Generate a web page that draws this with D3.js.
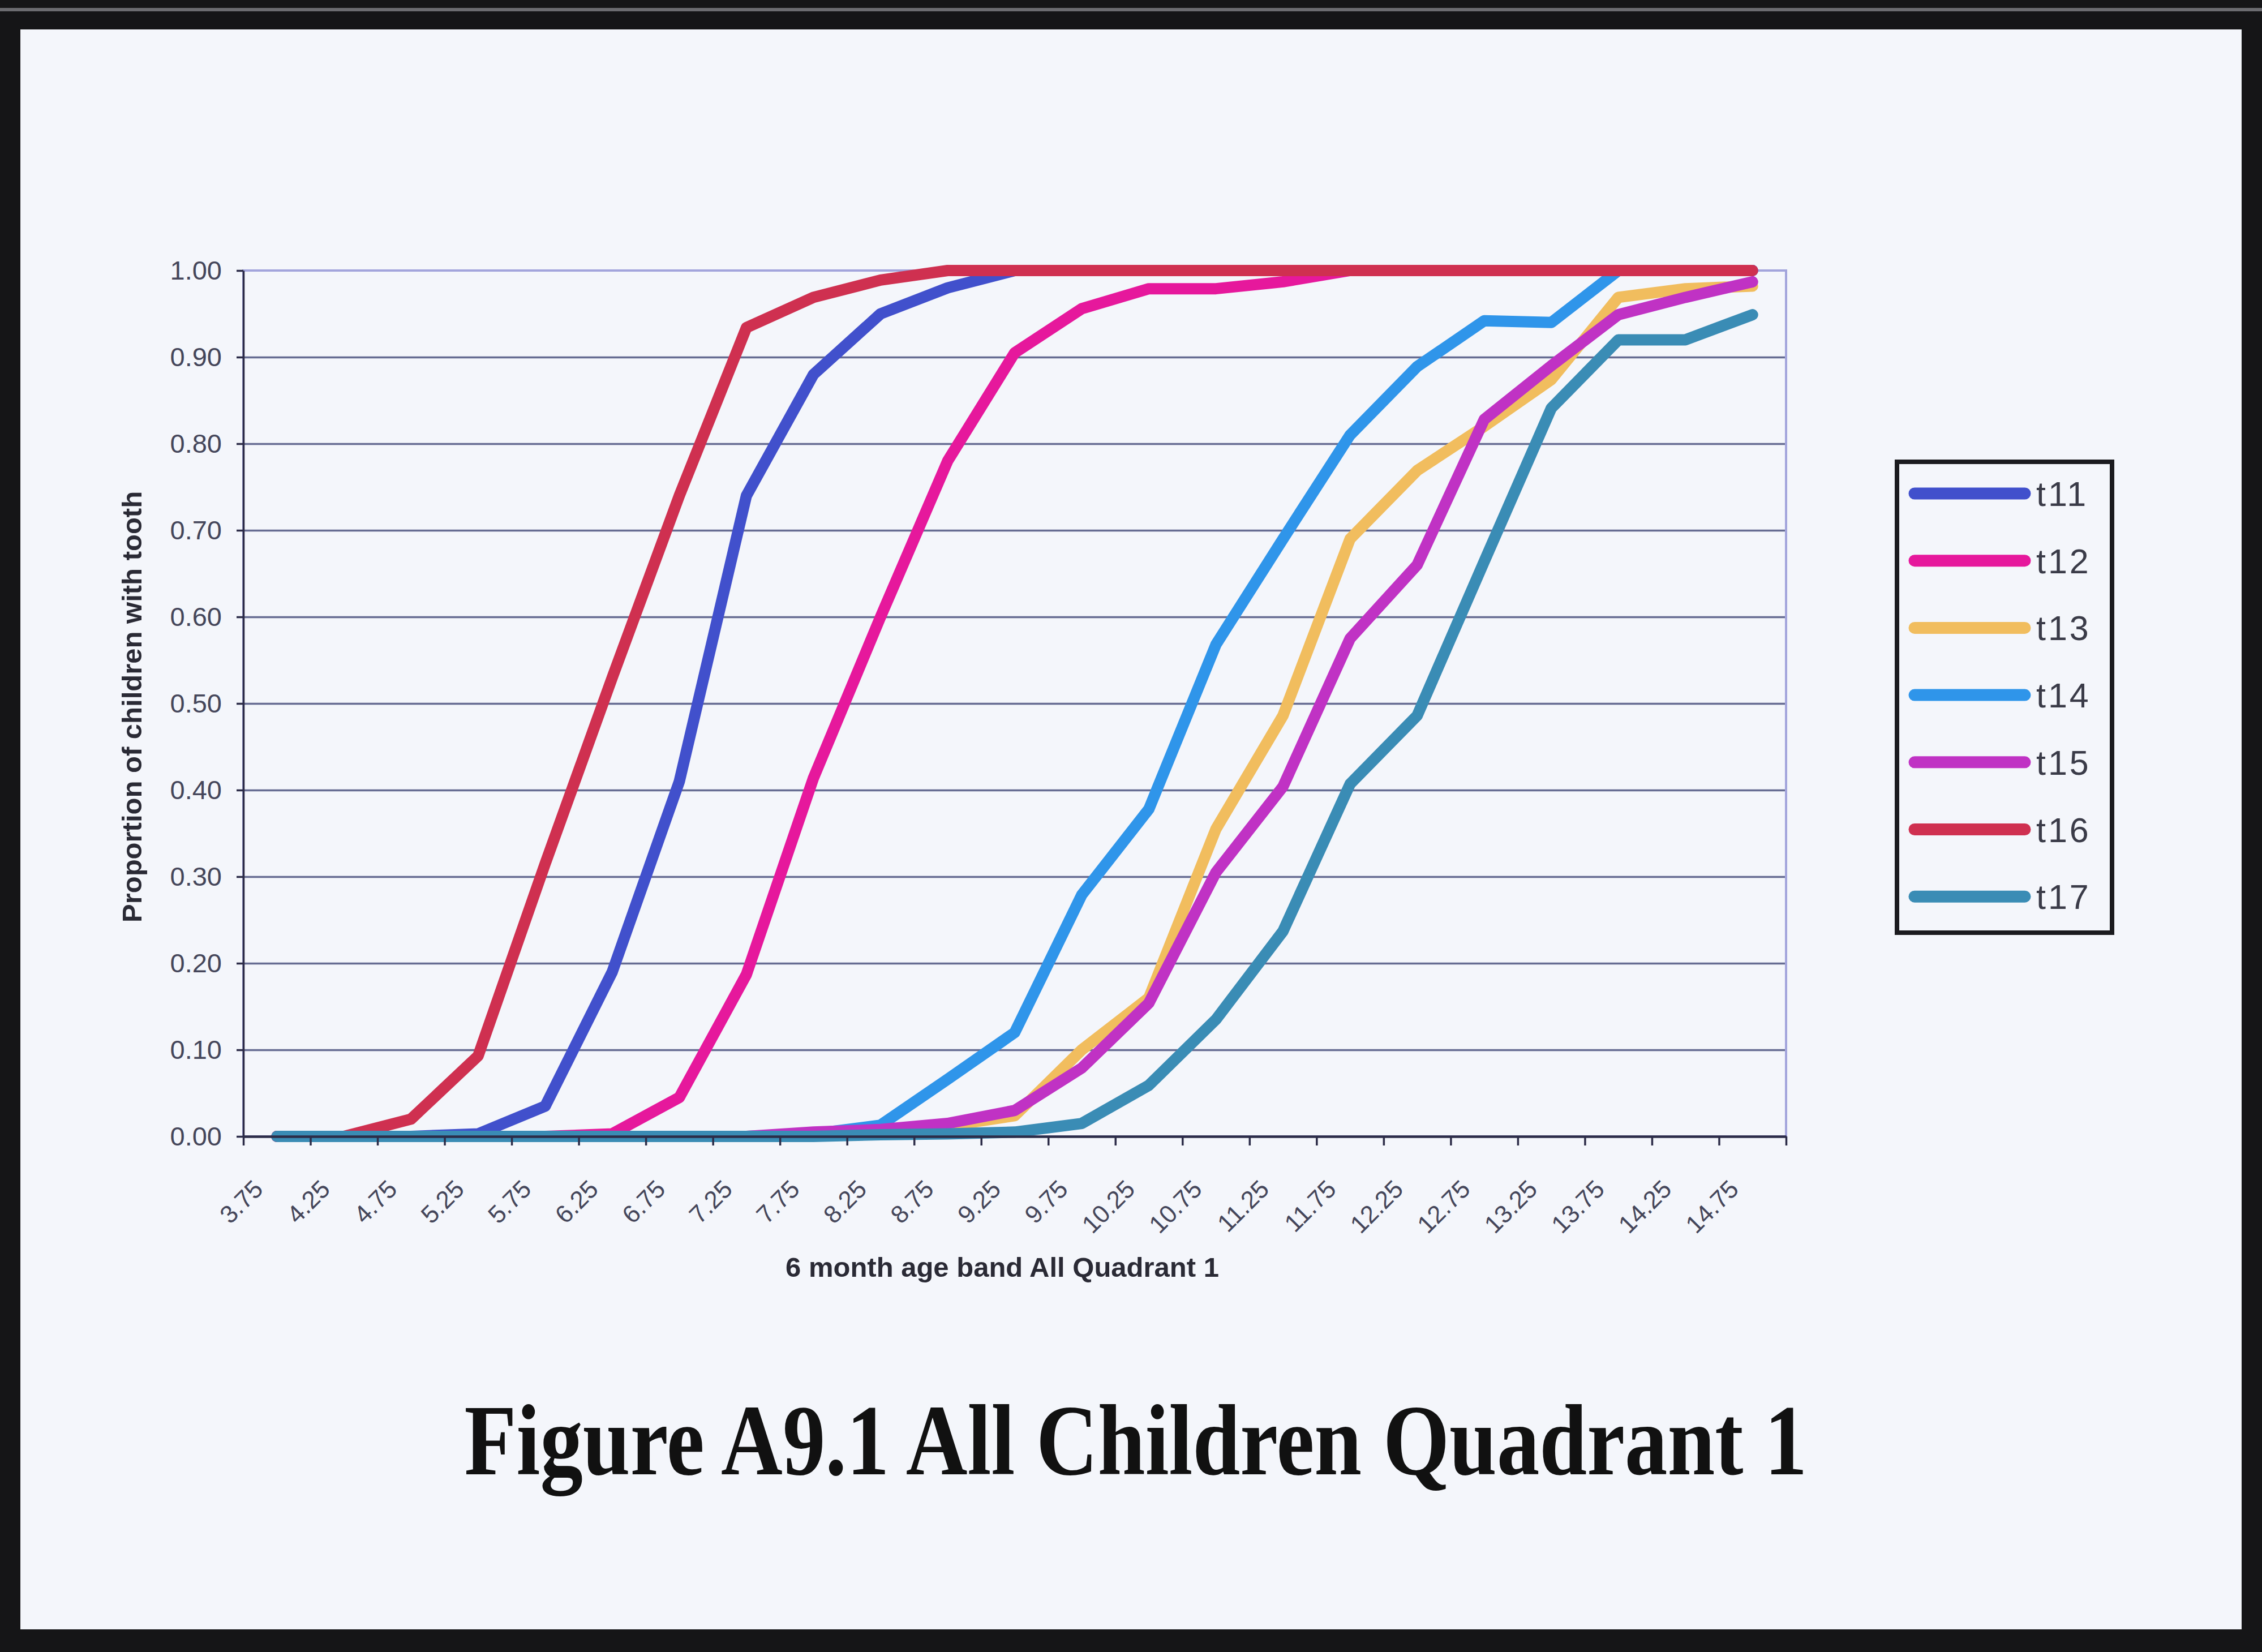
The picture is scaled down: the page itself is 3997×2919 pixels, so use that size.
<!DOCTYPE html>
<html lang="en">
<head>
    <meta charset="UTF-8">
    <title>Figure A9.1 All Children Quadrant 1</title>
    <script src="https://d3js.org/d3.v7.min.js"></script>
    <style>
        body { margin: 0; background: #f4f6fb; }
        svg { display: block; }
    </style>
</head>
<body>
    <script>
        // x categories (6 month age bands)
        const categories = ["3.75","4.25","4.75","5.25","5.75","6.25","6.75","7.25","7.75","8.25","8.75","9.25",
                            "9.75","10.25","10.75","11.25","11.75","12.25","12.75","13.25","13.75","14.25","14.75"];
        const yTicks = [0, 0.1, 0.2, 0.3, 0.4, 0.5, 0.6, 0.7, 0.8, 0.9, 1.0];

        const seriesNames = ["t11", "t12", "t13", "t14", "t15", "t16", "t17"];
        const t11 = [0, 0, 0, 0.003, 0.035, 0.19, 0.41, 0.74, 0.88, 0.95, 0.98, 1, 1, 1, 1, 1, 1, 1, 1, 1, 1, 1, 1];
        const t12 = [0, 0, 0, 0, 0, 0.003, 0.045, 0.187, 0.414, 0.60, 0.78, 0.905, 0.956, 0.979, 0.979, 0.987, 1, 1, 1, 1, 1, 1, 1];
        const t13 = [0, 0, 0, 0, 0, 0, 0, 0, 0.002, 0.006, 0.012, 0.024, 0.10, 0.16, 0.355, 0.486, 0.69, 0.769, 0.82, 0.874, 0.969, 0.979, 0.982];
        const t14 = [0, 0, 0, 0, 0, 0, 0, 0, 0.003, 0.013, 0.066, 0.12, 0.279, 0.378, 0.568, 0.69, 0.81, 0.889, 0.942, 0.94, 1, 1, 1];
        const t15 = [0, 0, 0, 0, 0, 0, 0, 0, 0.005, 0.008, 0.015, 0.03, 0.079, 0.154, 0.305, 0.404, 0.575, 0.66, 0.828, 0.89, 0.949, 0.969, 0.987];
        const t16 = [0, 0, 0.02, 0.093, 0.315, 0.53, 0.74, 0.934, 0.969, 0.989, 1, 1, 1, 1, 1, 1, 1, 1, 1, 1, 1, 1, 1];
        const t17 = [0, 0, 0, 0, 0, 0, 0, 0, 0, 0.002, 0.003, 0.005, 0.015, 0.059, 0.135, 0.237, 0.407, 0.486, 0.664, 0.841, 0.92, 0.92, 0.949];
        const seriesColors = ["#4150cc", "#e6189c", "#f1bd5e", "#2f95ea", "#c032c4", "#cf3050", "#3a8cb5"];

        const width = 3997;
        const height = 2919;
        const plot = { left: 430, top: 478, right: 3156, bottom: 2008 };
        const bg = "#f4f6fb";

        const svg = d3.select("body").append("svg")
            .attr("width", width)
            .attr("height", height);

        // dark photo frame round the page
        svg.append("rect").attr("width", width).attr("height", height).attr("fill", "#151517");
        svg.append("rect").attr("x", 0).attr("y", 14).attr("width", width).attr("height", 6).attr("fill", "#6b6b70");
        svg.append("rect")
            .attr("x", 36).attr("y", 52)
            .attr("width", width - 36 - 36).attr("height", height - 52 - 40)
            .attr("fill", bg);

        const x = d3.scaleBand().domain(categories).range([plot.left, plot.right]).paddingInner(0).paddingOuter(0);
        const xEdges = d3.scaleLinear().domain([0, categories.length]).range([plot.left, plot.right]);
        const y = d3.scaleLinear().domain([0, 1]).range([plot.bottom, plot.top]);

        // gridlines
        svg.append("g")
            .attr("transform", `translate(${plot.left},0)`)
            .call(d3.axisLeft(y).tickValues(yTicks.slice(1, -1)).tickSize(-(plot.right - plot.left)).tickFormat(""))
            .call(g => g.select(".domain").remove())
            .selectAll("line")
            .attr("stroke", "#666c92")
            .attr("stroke-width", 3.5);

        // plot area border (top and right)
        svg.append("rect")
            .attr("x", plot.left).attr("y", plot.top)
            .attr("width", plot.right - plot.left).attr("height", plot.bottom - plot.top)
            .attr("fill", "none")
            .attr("stroke", "#a3a5dc")
            .attr("stroke-width", 4);

        // y axis
        const yAxis = svg.append("g")
            .attr("transform", `translate(${plot.left},0)`)
            .call(d3.axisLeft(y).tickValues(yTicks).tickFormat(d3.format(".2f")).tickSize(12).tickPadding(26).tickSizeOuter(0));
        yAxis.select(".domain").attr("stroke", "#2c2c48").attr("stroke-width", 3.5);
        yAxis.selectAll(".tick line").attr("stroke", "#2c2c48").attr("stroke-width", 3.5);
        yAxis.selectAll("text")
            .attr("font-family", "'Liberation Sans', Arial, sans-serif")
            .attr("font-size", 47)
            .attr("fill", "#45465a");

        // series lines
        const line = d3.line()
            .x((d, i) => x(categories[i]) + x.bandwidth() / 2)
            .y(d => y(d));

        const allSeries = [t11, t12, t13, t14, t15, t16, t17];
        svg.append("g").selectAll("path")
            .data(allSeries)
            .join("path")
            .attr("d", d => line(d))
            .attr("fill", "none")
            .attr("stroke", (d, i) => seriesColors[i])
            .attr("stroke-width", 20)
            .attr("stroke-linejoin", "round")
            .attr("stroke-linecap", "round");

        // x axis: ticks on category edges, labels on centres
        const xTickAxis = svg.append("g")
            .attr("transform", `translate(0,${plot.bottom})`)
            .call(d3.axisBottom(xEdges).tickValues(d3.range(categories.length + 1)).tickFormat("").tickSize(16).tickSizeOuter(0));
        xTickAxis.select(".domain").attr("stroke", "#2c2c48").attr("stroke-width", 4.5);
        xTickAxis.selectAll(".tick line").attr("stroke", "#2c2c48").attr("stroke-width", 3.5);

        const xLabelAxis = svg.append("g")
            .attr("transform", `translate(0,${plot.bottom})`)
            .call(d3.axisBottom(x).tickSize(0).tickPadding(0));
        xLabelAxis.select(".domain").remove();
        xLabelAxis.selectAll("text")
            .attr("font-family", "'Liberation Sans', Arial, sans-serif")
            .attr("font-size", 44)
            .attr("fill", "#45465a")
            .attr("text-anchor", "end")
            .attr("dy", 0)
            .attr("y", 0)
            .attr("transform", "translate(-22,96) rotate(-45)");

        // axis titles
        svg.append("text")
            .attr("x", 1771).attr("y", 2256)
            .attr("text-anchor", "middle")
            .attr("font-family", "'Liberation Sans', Arial, sans-serif")
            .attr("font-weight", "bold")
            .attr("font-size", 49)
            .attr("fill", "#2a2a35")
            .text("6 month age band All Quadrant 1");

        svg.append("text")
            .attr("transform", "translate(250,1249) rotate(-90)")
            .attr("text-anchor", "middle")
            .attr("font-family", "'Liberation Sans', Arial, sans-serif")
            .attr("font-weight", "bold")
            .attr("font-size", 49)
            .attr("fill", "#2a2a35")
            .text("Proportion of children with tooth");

        // legend
        const legend = svg.append("g");
        legend.append("rect")
            .attr("x", 3352).attr("y", 816)
            .attr("width", 380).attr("height", 832)
            .attr("fill", bg)
            .attr("stroke", "#1b1b1f")
            .attr("stroke-width", 8);
        const rows = legend.selectAll("g.row")
            .data(seriesNames)
            .join("g")
            .attr("class", "row")
            .attr("transform", (d, i) => `translate(0,${872 + i * 118.7})`);
        rows.append("line")
            .attr("x1", 3383).attr("x2", 3578)
            .attr("stroke", (d, i) => seriesColors[i])
            .attr("stroke-width", 21)
            .attr("stroke-linecap", "round");
        rows.append("text")
            .attr("x", 3598).attr("y", 22)
            .attr("font-family", "'Liberation Sans', Arial, sans-serif")
            .attr("font-size", 61)
            .attr("letter-spacing", 4)
            .attr("fill", "#3a3b48")
            .text(d => d);

        // figure caption
        svg.append("text")
            .attr("x", 2007).attr("y", 2605)
            .attr("text-anchor", "middle")
            .attr("font-family", "'Liberation Serif', 'Times New Roman', serif")
            .attr("font-weight", "bold")
            .attr("font-size", 178)
            .attr("textLength", 2373)
            .attr("lengthAdjust", "spacingAndGlyphs")
            .attr("fill", "#111111")
            .text("Figure A9.1 All Children Quadrant 1");
    </script>
</body>
</html>
